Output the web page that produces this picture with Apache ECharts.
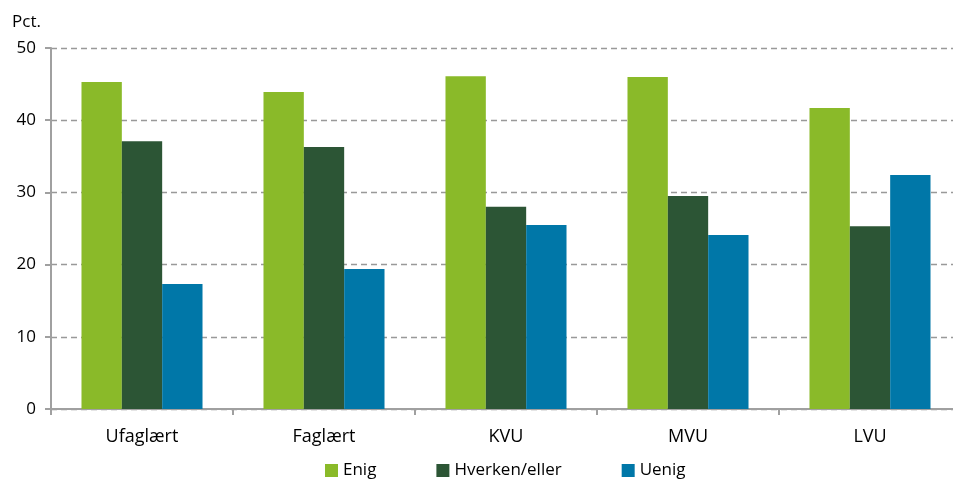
<!DOCTYPE html>
<html>
<head>
<meta charset="utf-8">
<script src="https://cdn.jsdelivr.net/npm/echarts@6/dist/echarts.min.js"></script>
<style>
html,body{margin:0;padding:0;background:#fff;}
#chart{width:953px;height:484px;}
</style>
</head>
<body>
<div id="chart"></div>
<script>
var categories = ['Ufaglært', 'Faglært', 'KVU', 'MVU', 'LVU'];
var enig = [45.3, 43.9, 46.1, 46.0, 41.7];
var hverken = [37.1, 36.3, 28.0, 29.5, 25.3];
var uenig = [17.3, 19.4, 25.5, 24.1, 32.4];
var yTicks = [0, 10, 20, 30, 40, 50];

var font = 'Open Sans';

var chart = echarts.init(document.getElementById('chart'));
chart.setOption({
	animation: false,
	textStyle: { fontFamily: font },
	// plot runs a little past the right edge, like the original
	grid: { left: 51, width: 910, top: 48, bottom: 75, containLabel: false, outerBoundsMode: 'none' },
	legend: {
		bottom: 0,
		left: 320,
		itemWidth: 13,
		itemHeight: 13,
		itemGap: 60,
		icon: 'rect',
		textStyle: { fontFamily: font, fontSize: 17, color: '#000' },
		data: ['Enig', 'Hverken/eller', 'Uenig']
	},
	xAxis: {
		type: 'category',
		data: categories,
		axisLine: { lineStyle: { color: '#a0a0a0', width: 2 } },
		axisTick: { show: true, alignWithLabel: false, length: 6, lineStyle: { color: '#a0a0a0', width: 2 } },
		axisLabel: { fontFamily: font, fontSize: 18, color: '#000', margin: 19 }
	},
	yAxis: {
		type: 'value',
		min: yTicks[0],
		max: yTicks[yTicks.length - 1],
		interval: 10,
		name: 'Pct.',
		nameLocation: 'end',
		nameGap: 17,
		nameTextStyle: { fontFamily: font, fontSize: 17, color: '#000', align: 'right', padding: [0, 10, 0, 0] },
		axisLine: { show: true, lineStyle: { color: '#a0a0a0', width: 2 } },
		axisTick: { show: true, inside: false, length: 6, lineStyle: { color: '#a0a0a0', width: 2 } },
		axisLabel: { fontFamily: font, fontSize: 17, color: '#000', margin: 15 },
		splitLine: { show: true, lineStyle: { color: '#999', type: [6, 4], width: 1.3 } }
	},
	series: [
		{ name: 'Enig', type: 'bar', data: enig, barGap: '0%', barCategoryGap: '33.5%', itemStyle: { color: '#8aba29' } },
		{ name: 'Hverken/eller', type: 'bar', data: hverken, itemStyle: { color: '#2c5535' } },
		{ name: 'Uenig', type: 'bar', data: uenig, itemStyle: { color: '#0077a8' } }
	]
});
</script>
</body>
</html>
